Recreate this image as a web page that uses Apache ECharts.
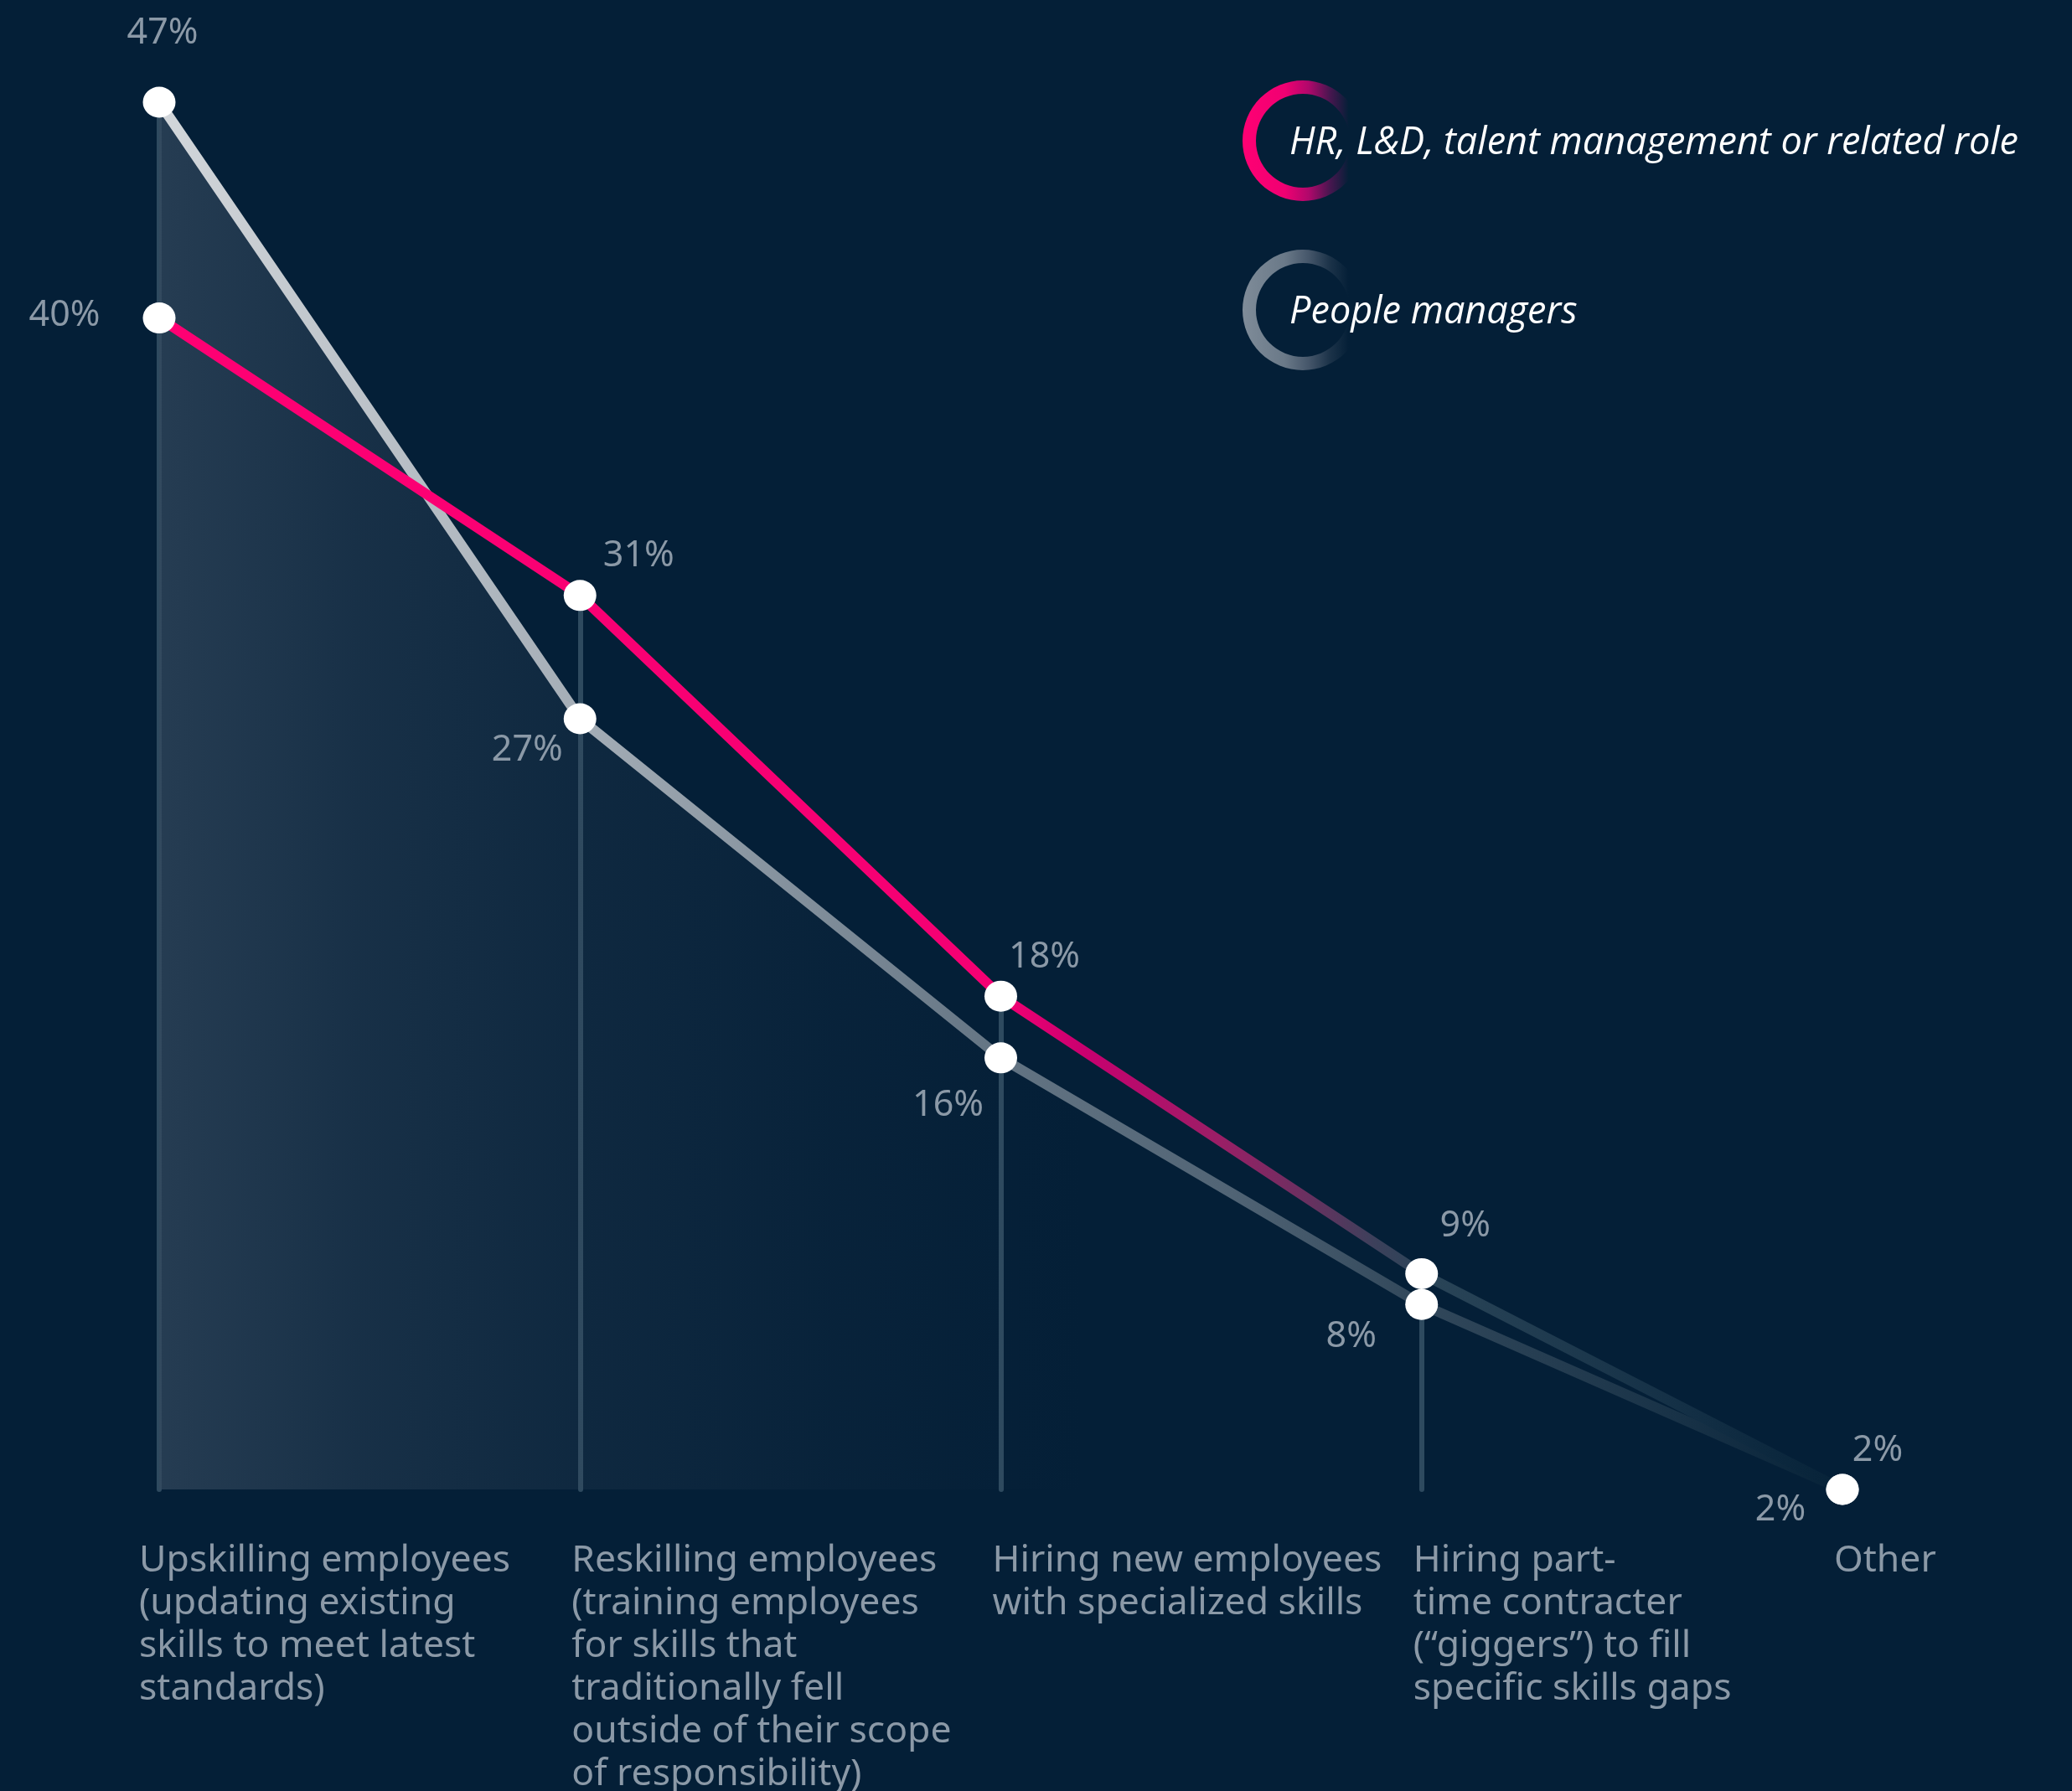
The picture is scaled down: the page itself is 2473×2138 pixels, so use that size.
<!DOCTYPE html>
<html>
<head>
<meta charset="utf-8">
<script src="https://cdn.jsdelivr.net/npm/echarts@6/dist/echarts.min.js"></script>
<style>
  html, body { margin: 0; padding: 0; background: #041f37; }
  #chart { width: 2473px; height: 2138px; }
</style>
</head>
<body>
<div id="chart"></div>
<script>
// ---- data ----
const categories = [
  'Upskilling employees\n(updating existing\nskills to meet latest\nstandards)',
  'Reskilling employees\n(training employees\nfor skills that\ntraditionally fell\noutside of their scope\nof responsibility)',
  'Hiring new employees\nwith specialized skills',
  'Hiring part-\ntime contracter\n(\u201cgiggers\u201d) to fill\nspecific skills gaps',
  'Other'
];
const seriesNames = ['HR, L&D, talent management or related role', 'People managers'];
const hrValues = [40, 31, 18, 9, 2];
const pmValues = [47, 27, 16, 8, 2];
const yMin = 2;
const yMax = 47;

// ---- styling ----
const BG = '#041f37';
const LABEL_GRAY = '#8b99a7';
const hrLabelOffsets = [[-113, -3], [70, -47], [52, -46], [52, -57], [42, -46]];
const pmLabelOffsets = [[4, -82], [-63, 38], [-63, 57], [-84, 39], [-74, 25]];

function grad(stops) {
  return { type: 'linear', x: 0, y: 0, x2: 1, y2: 0,
    colorStops: stops.map(s => ({ offset: s[0], color: s[1] })) };
}

const labelBase = {
  show: true, position: 'inside', color: LABEL_GRAY,
  fontFamily: 'Noto Sans', fontSize: 43, textBorderWidth: 0,
  formatter: p => p.value + '%'
};

const hrData = hrValues.map((v, i) => ({ value: v, label: { offset: hrLabelOffsets[i] } }));
const pmData = pmValues.map((v, i) => ({ value: v, label: { offset: pmLabelOffsets[i] } }));

const dropLines = categories.slice(0, categories.length - 1).map((c, i) => [
  { coord: [i, Math.max(hrValues[i], pmValues[i])] },
  { coord: [i, yMin] }
]);

const catTextStyle = { color: LABEL_GRAY, fontFamily: 'Noto Sans', fontSize: 44.5, lineHeight: 51 };

const chart = echarts.init(document.getElementById('chart'), null, { renderer: 'canvas' });

const option = {
  backgroundColor: BG,
  animation: false,
  grid: { left: 190, right: 274, top: 122, bottom: 360, containLabel: false, outerBoundsMode: 'none' },
  xAxis: {
    type: 'category', data: categories, boundaryGap: false,
    axisLine: { show: false }, axisTick: { show: false }, splitLine: { show: false },
    axisLabel: Object.assign({
      interval: 0, align: 'left', verticalAlign: 'top', margin: 60, hideOverlap: false,
      formatter: (v, i) => {
        const key = i === 0 ? 'first' : 'rest';
        return v.split('\n').map(line => '{' + key + '|' + line + '}').join('\n');
      },
      rich: {
        first: Object.assign({ padding: [0, 0, 0, -24] }, catTextStyle),
        rest: Object.assign({ padding: [0, 0, 0, -10] }, catTextStyle)
      }
    }, catTextStyle)
  },
  yAxis: { type: 'value', min: yMin, max: yMax, show: false, splitLine: { show: false } },
  series: [
    {
      name: seriesNames[1], type: 'line', data: pmData, z: 2,
      symbol: 'circle', symbolSize: [39, 37],
      itemStyle: { color: '#ffffff', borderWidth: 0 },
      lineStyle: { width: 12, cap: 'round', color: grad([
        [0, '#d3d7db'], [0.25, '#a5aeb7'], [0.5, '#637483'], [0.63, '#526576'],
        [0.74, '#33495c'], [0.9, '#183247'], [1, '#062238']
      ]) },
      areaStyle: { color: grad([
        [0, 'rgba(52,73,94,1)'], [0.12, 'rgba(52,73,94,0.58)'], [0.25, 'rgba(52,73,94,0.32)'],
        [0.4, 'rgba(52,73,94,0.12)'], [0.55, 'rgba(52,73,94,0)'], [1, 'rgba(52,73,94,0)']
      ]) },
      label: labelBase,
      emphasis: { disabled: true },
      markLine: {
        silent: true, z: 1, symbol: ['none', 'none'], animation: false,
        label: { show: false },
        lineStyle: { color: '#2e4a5f', width: 6, type: 'solid', cap: 'round', opacity: 1 },
        emphasis: { disabled: true },
        data: dropLines
      }
    },
    {
      name: seriesNames[0], type: 'line', data: hrData, z: 3,
      symbol: 'circle', symbolSize: [39, 37],
      itemStyle: { color: '#ffffff', borderWidth: 0 },
      lineStyle: { width: 12, cap: 'round', color: grad([
        [0, '#ff0073'], [0.5, '#f40073'], [0.55, '#c8006f'], [0.63, '#9a1f66'],
        [0.68, '#6a3060'], [0.72, '#3d405b'], [0.75, '#2a4558'], [0.9, '#143046'], [1, '#062238']
      ]) },
      label: labelBase,
      emphasis: { disabled: true }
    }
  ],
  graphic: [
    { type: 'ring', shape: { cx: 1555, cy: 168, r: 72, r0: 56 }, silent: true,
      style: { fill: grad([[0, '#ff0073'], [0.35, '#f00072'], [0.55, '#b0086b'], [0.72, '#4a1650'], [0.88, BG], [1, BG]]) } },
    { type: 'text', x: 1539, y: 171, silent: true,
      style: { text: seriesNames[0], fill: '#ffffff', font: 'italic 45px "Open Sans"', verticalAlign: 'middle' } },
    { type: 'ring', shape: { cx: 1555, cy: 370, r: 72, r0: 56 }, silent: true,
      style: { fill: grad([[0, '#7f8c99'], [0.35, '#6a7988'], [0.55, '#45566a'], [0.72, '#1c3349'], [0.88, BG], [1, BG]]) } },
    { type: 'text', x: 1539, y: 373, silent: true,
      style: { text: seriesNames[1], fill: '#ffffff', font: 'italic 45px "Open Sans"', verticalAlign: 'middle' } }
  ]
};
chart.setOption(option);
</script>
</body>
</html>
